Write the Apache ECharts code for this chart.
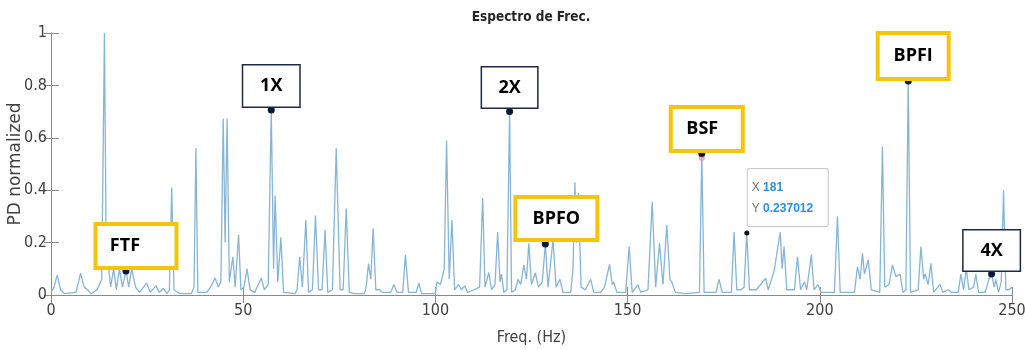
<!DOCTYPE html>
<html>
<head>
<meta charset="utf-8">
<script src="https://cdn.jsdelivr.net/npm/echarts@6/dist/echarts.min.js"></script>
<style>
  html, body { margin: 0; padding: 0; background: #fff; }
  #chart { width: 1025px; height: 350px; }
</style>
</head>
<body>
<div id="chart"></div>
<script>
// espectro (Hz, amplitud normalizada)
const freq = [
  0, 0.8, 1.6, 2.5, 3.5, 6.5, 7.7, 8.6, 9.5, 10.5, 12.0, 13.2, 13.9, 14.4, 14.9, 15.5, 16.3, 17.0, 17.8, 18.6,
  19.5, 20.2, 21.0, 22.0, 23.0, 24.9, 25.8, 27.3, 28.2, 29.2, 30.2, 30.8, 31.4, 32.0, 33.5, 36.5, 37.2, 37.7, 38.2, 40.5,
  41.5, 42.7, 43.5, 44.2, 44.8, 45.3, 45.8, 46.4, 47.3, 47.9, 48.8, 49.4, 50.2, 51.0, 51.8, 53.0, 54.7, 55.5, 56.5, 57.3,
  57.9, 58.3, 59.0, 59.8, 60.5, 63.5, 64.0, 64.7, 65.4, 66.3, 67.0, 68.0, 68.8, 69.6, 70.5, 71.3, 72.0, 73.2, 74.2, 75.2,
  76.0, 76.8, 77.6, 79.0, 81.5, 82.0, 82.6, 83.2, 83.8, 84.5, 85.5, 86.2, 88.4, 89.2, 90.0, 91.5, 92.2, 93.0, 95.0, 95.7,
  96.4, 100.0, 100.4, 101.3, 102.3, 102.9, 103.6, 104.3, 105.0, 106.0, 106.8, 107.6, 108.4, 110.0, 111.5, 112.3, 112.9, 113.9, 114.6, 115.5,
  116.2, 116.8, 117.2, 117.8, 118.6, 119.3, 119.8, 120.8, 121.5, 122.2, 123.0, 123.7, 124.3, 125.0, 126.0, 126.8, 127.8, 128.6, 129.3, 130.6,
  131.4, 132.4, 133.2, 135.2, 135.8, 136.3, 136.7, 137.2, 137.9, 139.0, 140.4, 141.2, 143.0, 144.0, 145.3, 146.0, 146.4, 147.2, 149.5, 150.4,
  151.2, 152.7, 153.4, 155.3, 156.4, 157.3, 158.3, 159.2, 160.2, 161.0, 161.5, 162.4, 165.0, 168.7, 169.3, 169.9, 173.0, 173.8, 174.6, 177.0,
  177.7, 178.4, 179.5, 180.3, 181.0, 181.7, 183.5, 185.9, 186.6, 188.1, 189.7, 190.2, 190.7, 191.4, 193.4, 194.2, 195.0, 196.0, 196.6, 197.8,
  198.5, 199.5, 200.3, 203.8, 204.6, 205.3, 209.0, 209.8, 210.5, 211.1, 211.6, 212.6, 213.4, 215.6, 216.3, 216.9, 218.0, 218.9, 219.8, 220.9,
  221.6, 222.4, 223.0, 223.6, 225.6, 226.3, 227.0, 227.4, 228.2, 228.9, 229.6, 231.3, 232.0, 233.5, 234.2, 236.0, 236.7, 237.4, 238.1, 238.8,
  240.0, 240.6, 241.3, 243.0, 244.0, 244.7, 245.4, 245.8, 246.5, 247.2, 247.8, 248.4, 249.2, 250
]
const amp = [
  0.01, 0.03, 0.076, 0.02, 0.005, 0.01, 0.083, 0.03, 0.02, 0.005, 0.02, 0.06, 1.0, 0.1, 0.12, 0.03, 0.1, 0.02, 0.1, 0.03,
  0.095, 0.03, 0.1, 0.03, 0.01, 0.045, 0.01, 0.035, 0.01, 0.025, 0.005, 0.02, 0.41, 0.02, 0.005, 0.005, 0.03, 0.56, 0.01, 0.01,
  0.03, 0.065, 0.03, 0.05, 0.674, 0.2, 0.674, 0.05, 0.146, 0.03, 0.23, 0.02, 0.03, 0.1, 0.02, 0.01, 0.065, 0.02, 0.04, 0.706,
  0.1, 0.38, 0.05, 0.22, 0.01, 0.005, 0.02, 0.146, 0.03, 0.286, 0.01, 0.02, 0.303, 0.02, 0.02, 0.248, 0.01, 0.02, 0.56, 0.02,
  0.02, 0.33, 0.01, 0.005, 0.005, 0.03, 0.12, 0.06, 0.255, 0.02, 0.02, 0.01, 0.01, 0.04, 0.01, 0.01, 0.153, 0.01, 0.01, 0.045,
  0.005, 0.005, 0.05, 0.04, 0.1, 0.59, 0.06, 0.286, 0.02, 0.04, 0.02, 0.035, 0.01, 0.02, 0.03, 0.37, 0.03, 0.086, 0.02, 0.04,
  0.24, 0.05, 0.08, 0.01, 0.02, 0.70, 0.01, 0.02, 0.06, 0.04, 0.115, 0.06, 0.197, 0.04, 0.084, 0.03, 0.05, 0.195, 0.03, 0.21,
  0.03, 0.06, 0.01, 0.01, 0.1, 0.43, 0.2, 0.39, 0.03, 0.02, 0.06, 0.01, 0.01, 0.03, 0.117, 0.04, 0.05, 0.01, 0.01, 0.185,
  0.01, 0.04, 0.01, 0.02, 0.356, 0.03, 0.197, 0.04, 0.267, 0.06, 0.05, 0.01, 0.005, 0.01, 0.54, 0.01, 0.01, 0.06, 0.01, 0.01,
  0.24, 0.02, 0.02, 0.03, 0.237, 0.02, 0.02, 0.064, 0.02, 0.09, 0.24, 0.1, 0.185, 0.02, 0.02, 0.146, 0.02, 0.05, 0.02, 0.153,
  0.02, 0.04, 0.01, 0.01, 0.30, 0.01, 0.01, 0.108, 0.06, 0.159, 0.08, 0.134, 0.02, 0.01, 0.566, 0.03, 0.04, 0.115, 0.07, 0.08,
  0.01, 0.02, 0.817, 0.01, 0.02, 0.185, 0.06, 0.08, 0.04, 0.121, 0.01, 0.04, 0.01, 0.02, 0.01, 0.01, 0.08, 0.02, 0.1, 0.02,
  0.03, 0.08, 0.01, 0.01, 0.06, 0.08, 0.03, 0.06, 0.01, 0.05, 0.40, 0.02, 0.02, 0.03
]

// frecuencias caracteristicas marcadas
const markNames = ['FTF', '1X', '2X', 'BPFO', 'BSF', 'BPFI', '4X']
const markFreq = [19.5, 57.3, 119.3, 128.6, 169.3, 223.0, 244.7]
const markAmp = [0.092, 0.706, 0.70, 0.195, 0.54, 0.817, 0.08]

// datatip
const tipFreq = 181
const tipAmp = 0.237012
const tipAmp2 = 0.523 // marcador rosa bajo BSF

const YELLOW = '#f6c40c'
const DARK = '#1c2946'
const FRAME = '#8a8a8a'
const AXFONT = "'Liberation Sans Narrow', 'DejaVu Sans Condensed', 'Liberation Sans', Arial, sans-serif"

// estilo de cada caja
const boxStyle = {
  'FTF':  { color: YELLOW, dx: 10, dy: -25, w: 77, h: 40, bw: 4, pr: 22 },
  '1X':   { color: DARK, dx: 0, dy: -24, w: 56, h: 41, bw: 1.5, pr: 0 },
  '2X':   { color: DARK, dx: 0, dy: -24, w: 55, h: 40, bw: 1.5, pr: 0 },
  'BPFO': { color: YELLOW, dx: 11, dy: -25.5, w: 78, h: 39, bw: 4, pr: 0 },
  'BSF':  { color: YELLOW, dx: 5, dy: -24.5, w: 68, h: 40, bw: 4, pr: 9 },
  'BPFI': { color: YELLOW, dx: 5, dy: -25, w: 67, h: 42, bw: 4, pr: 0 },
  '4X':   { color: DARK, dx: 0, dy: -23.5, w: 56, h: 40, bw: 1.5, pr: 0 }
}

function initChart() {
  let chart = echarts.init(document.getElementById('chart'), null, { renderer: 'canvas' })

  let lineData = freq.map((f, i) => [f, amp[i]])

  let markData = markNames.map((name, i) => {
    let s = boxStyle[name]
    return {
      name: name,
      value: [markFreq[i], markAmp[i]],
      label: {
        show: true,
        position: 'inside',
        formatter: name,
        offset: [s.dx, s.dy],
        width: s.w - s.pr,
        height: s.h,
        lineHeight: s.h,
        padding: [0, s.pr, 0, 0],
        align: 'center',
        verticalAlign: 'middle',
        backgroundColor: '#fff',
        borderColor: s.color,
        borderWidth: s.bw,
        color: '#000',
        textBorderWidth: 0,
        textBorderColor: 'transparent',
        textShadowBlur: 0,
        shadowBlur: 0,
        shadowColor: 'transparent',
        opacity: 1,
        fontFamily: "'Open Sans', 'DejaVu Sans', sans-serif",
        fontWeight: 'bold',
        fontSize: 18
      }
    }
  })

  chart.setOption({
    animation: false,
    title: {
      text: 'Espectro de Frec.',
      left: 531,
      top: 10,
      padding: 0,
      textAlign: 'center',
      textStyle: {
        fontFamily: AXFONT,
        fontSize: 13.5,
        fontWeight: 'bold',
        color: '#262626'
      }
    },
    grid: {
      left: 51,
      right: 13,
      top: 33,
      bottom: 55,
      containLabel: false,
      outerBoundsMode: 'none'
    },
    xAxis: [
      {
        type: 'value',
        min: 0,
        max: 250,
        interval: 50,
        name: 'Freq. (Hz)',
        nameLocation: 'middle',
        nameGap: 35,
        nameMoveOverlap: false,
        nameTextStyle: { fontFamily: AXFONT, fontSize: 16, color: '#404040' },
        axisLine: { show: true, lineStyle: { color: FRAME, width: 1 } },
        axisTick: { show: true, inside: true, length: 8, lineStyle: { color: FRAME } },
        axisLabel: { fontFamily: AXFONT, fontSize: 16, color: '#404040', margin: 8 },
        splitLine: { show: false }
      },
      {
        type: 'value',
        position: 'top',
        min: 0,
        max: 250,
        interval: 50,
        axisLine: { show: true, lineStyle: { color: FRAME, width: 1 } },
        axisTick: { show: true, inside: true, length: 8, lineStyle: { color: FRAME } },
        axisLabel: { show: false },
        splitLine: { show: false }
      }
    ],
    yAxis: [
      {
        type: 'value',
        min: 0,
        max: 1,
        interval: 0.2,
        name: 'PD normalized',
        nameLocation: 'middle',
        nameGap: 27,
        nameMoveOverlap: false,
        nameTextStyle: { fontFamily: "'DejaVu Sans', sans-serif", fontSize: 17, color: '#404040' },
        axisLine: { show: true, lineStyle: { color: FRAME, width: 1 } },
        axisTick: { show: true, inside: true, length: 8, lineStyle: { color: FRAME } },
        axisLabel: {
          fontFamily: AXFONT,
          fontSize: 16,
          color: '#404040',
          margin: 4,
          formatter: v => String(Math.round(v * 10) / 10)
        },
        splitLine: { show: false }
      },
      {
        type: 'value',
        position: 'right',
        min: 0,
        max: 1,
        interval: 0.2,
        axisLine: { show: true, lineStyle: { color: FRAME, width: 1 } },
        axisTick: { show: true, inside: true, length: 7, lineStyle: { color: FRAME } },
        axisLabel: { show: false },
        splitLine: { show: false }
      }
    ],
    series: [
      {
        name: 'PD',
        type: 'line',
        data: lineData,
        showSymbol: false,
        symbol: 'none',
        lineStyle: { color: '#86b5d6', width: 1.3 },
        z: 2
      },
      {
        name: 'pink',
        type: 'scatter',
        data: [[markFreq[4], tipAmp2]],
        symbolSize: 6,
        itemStyle: { color: '#e9a3b6', opacity: 1 },
        z: 3
      },
      {
        name: 'marks',
        type: 'scatter',
        data: markData,
        symbolSize: 7,
        itemStyle: { color: '#0b1838', opacity: 1 },
        z: 4
      },
      {
        name: 'tip',
        type: 'scatter',
        data: [[tipFreq, tipAmp]],
        symbolSize: 5,
        itemStyle: { color: '#111', opacity: 1 },
        label: {
          show: true,
          position: 'inside',
          align: 'left',
          verticalAlign: 'bottom',
          offset: [1, -7],
          width: 72,
          padding: [8, 4, 7, 4],
          backgroundColor: 'rgba(255,255,255,0.92)',
          borderColor: '#c9c9c9',
          borderWidth: 1,
          borderRadius: 2,
          textBorderWidth: 0,
          formatter: () => '{k|X} {v|' + tipFreq + '}\n{k|Y} {v|' + tipAmp + '}',
          rich: {
            k: { color: '#6f6f6f', fontSize: 12, lineHeight: 21, fontFamily: "'Liberation Sans', Arial, sans-serif", textBorderWidth: 0 },
            v: { color: '#2a8fe0', fontSize: 12, lineHeight: 21, fontWeight: 'bold', fontFamily: "'Liberation Sans', Arial, sans-serif", textBorderWidth: 0 }
          }
        },
        z: 5
      }
    ]
  })
}

initChart()
</script>
</body>
</html>
